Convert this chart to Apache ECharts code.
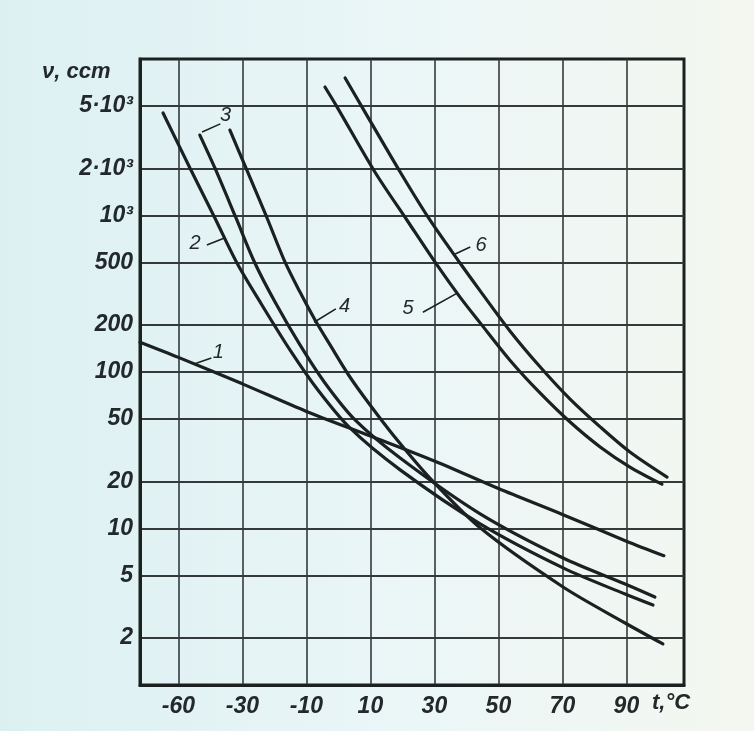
<!DOCTYPE html>
<html><head><meta charset="utf-8">
<script src="https://cdn.jsdelivr.net/npm/echarts@6/dist/echarts.min.js"></script>
<style>html,body{margin:0;padding:0;background:#e6f2f3}#c{width:754px;height:731px}</style>
</head><body><div id="c"></div>
<script>
// ---- tick labels ----
const xTickValues = [-50, -30, -10, 10, 30, 50, 70, 90];
const xTickLabels = ['-60', '-30', '-10', '10', '30', '50', '70', '90'];
const yTickValues = [2, 5, 10, 20, 50, 100, 200, 500, 1000, 2000, 5000];
const yTickLabels = ['2', '5', '10', '20', '50', '100', '200', '500', '10³', '2·10³', '5·10³'];

// ---- curves (temperature °C, viscosity cSt) ----
const curve1T = [-62, -50, -30, -10, 10, 30, 50, 70, 90, 101.7];
const curve1V = [155, 124, 84, 56, 39, 27, 18, 12.3, 8.3, 6.7];
const curve2T = [-54.8, -46.4, -38.6, -31.7, -23.9, -15.1, -6.4, 3.6, 19.3, 44.3, 70.2, 89.6, 98.3];
const curve2V = [4520, 2012, 964, 497, 268, 138, 76.7, 43.9, 23.7, 10.7, 5.6, 3.81, 3.24];
const curve3T = [-43.3, -38.6, -32.0, -26.1, -19.8, -12.0, -4.2, 5.2, 19.3, 44.3, 70.2, 89.6, 98.9];
const curve3V = [3266, 2012, 964, 497, 280, 149, 85.1, 49.4, 28.2, 12.4, 6.48, 4.42, 3.65];
const curve4T = [-33.9, -28.9, -22.3, -16.7, -12.0, -7.3, -2.6, 3.6, 9.9, 17.1, 28.6, 44.3, 70.2, 89.6, 101.4];
const curve4V = [3515, 2012, 964, 505, 324, 215, 149, 92.9, 61.5, 39.6, 21.0, 10.1, 4.23, 2.49, 1.83];
const curve5T = [-4.2, -0.4, 11.4, 21.4, 30.8, 38.0, 44.3, 53.6, 63.0, 72.4, 81.8, 91.1, 101.1];
const curve5V = [6620, 4930, 1897, 936, 483, 301, 206, 119, 73.5, 47.9, 33.2, 24.7, 19.2];
const curve6T = [2.1, 7.4, 19.3, 28.6, 38.0, 44.3, 53.6, 63.0, 72.4, 81.8, 91.1, 102.7];
const curve6V = [7565, 4930, 1897, 936, 497, 330, 183, 108, 67.1, 44.6, 30.8, 21.3];

// ---- curve annotations (data coordinates) ----
const curveNames = ['1', '2', '3', '4', '5', '6'];
const labelAt = [[-37.5, 134], [-44.8, 667], [-35.3, 4330], [1.9, 262], [21.8, 253], [44.6, 647]];
const leaderFrom = [[-45.1, 112.6], [-35.4, 722], [-42.6, 3420], [-7.6, 208], [37.0, 318], [36.5, 568]];
const leaderTo = [[-39.7, 122.7], [-41.1, 647], [-36.9, 3850], [-0.8, 253], [26.4, 241], [41.2, 630]];

const yAxisTitle = 'ν, сст';
const xAxisTitle = 't,°C';

const curvesT = [curve1T, curve2T, curve3T, curve4T, curve5T, curve6T];
const curvesV = [curve1V, curve2V, curve3V, curve4V, curve5V, curve6V];

const INK = '#1b2020';
const FONT = { fontFamily: 'Liberation Sans', fontStyle: 'italic', fontWeight: 'bold', fontSize: 23, color: '#23292a' };

function nearest(values, labels, v, tf) {
  let best = 0, bd = Infinity;
  values.forEach((t, i) => { const d = Math.abs(tf(t) - v); if (d < bd) { bd = d; best = i; } });
  return labels[best];
}

const chart = echarts.init(document.getElementById('c'), null, { renderer: 'canvas' });

const series = curvesT.map((ts, i) => ({
  type: 'line',
  name: 'curve ' + curveNames[i],
  xAxisIndex: 0,
  yAxisIndex: 0,
  smooth: 0.3,
  symbol: 'none',
  animation: false,
  data: ts.map((t, j) => [t, curvesV[i][j]]),
  lineStyle: { color: INK, width: 3.2, cap: 'round' },
  markLine: {
    silent: true, symbol: 'none', animation: false,
    label: { show: false },
    lineStyle: { color: INK, width: 1.6, type: 'solid' },
    data: [[{ coord: leaderFrom[i] }, { coord: leaderTo[i] }]]
  },
  markPoint: {
    silent: true, symbol: 'circle', symbolSize: 0, animation: false,
    label: Object.assign({ show: true, position: 'inside', formatter: curveNames[i] }, FONT, { fontWeight: 'normal', fontSize: 20 }),
    data: [{ coord: labelAt[i] }]
  }
}));

const option = {
  animation: false,
  backgroundColor: new echarts.graphic.LinearGradient(0, 0, 1, 0, [
    { offset: 0, color: '#dcf0f2' },
    { offset: 0.55, color: '#ebf6f7' },
    { offset: 1, color: '#f4f7f0' }
  ]),
  grid: {
    left: 140, top: 59, right: 70, bottom: 46,
    show: true, borderColor: INK, borderWidth: 3, backgroundColor: 'transparent',
    outerBoundsMode: 'none'
  },
  xAxis: [{
    type: 'value', min: -62, max: 108,
    axisLine: { show: true, onZero: false, lineStyle: { color: INK, width: 3 } },
    axisTick: { show: false, customValues: xTickValues },
    axisLabel: Object.assign({ customValues: xTickValues, margin: 10,
      formatter: v => nearest(xTickValues, xTickLabels, v, t => t) }, FONT),
    splitLine: { show: true, lineStyle: { color: '#343a3a', width: 1.6 } }
  }],
  yAxis: [{
    type: 'log', logBase: 10, min: 1, max: 10000, show: false
  }, {
    type: 'value', min: 0, max: 4, position: 'left',
    axisLine: { show: true, onZero: false, lineStyle: { color: INK, width: 3 } },
    axisTick: { show: false, customValues: yTickValues.map(Math.log10) },
    axisLabel: Object.assign({ customValues: yTickValues.map(Math.log10), margin: 7,
      formatter: v => nearest(yTickValues, yTickLabels, v, Math.log10) }, FONT),
    splitLine: { show: true, lineStyle: { color: '#343a3a', width: 1.8 } }
  }],
  graphic: [
    { type: 'text', left: 42, top: 61, silent: true,
      style: { text: yAxisTitle, font: 'italic bold 22px "Liberation Sans"', fill: '#23292a' } },
    { type: 'text', left: 652, top: 692, silent: true,
      style: { text: xAxisTitle, font: 'italic bold 22px "Liberation Sans"', fill: '#23292a' } }
  ],
  series: series
};
chart.setOption(option);
</script>
</body></html>
